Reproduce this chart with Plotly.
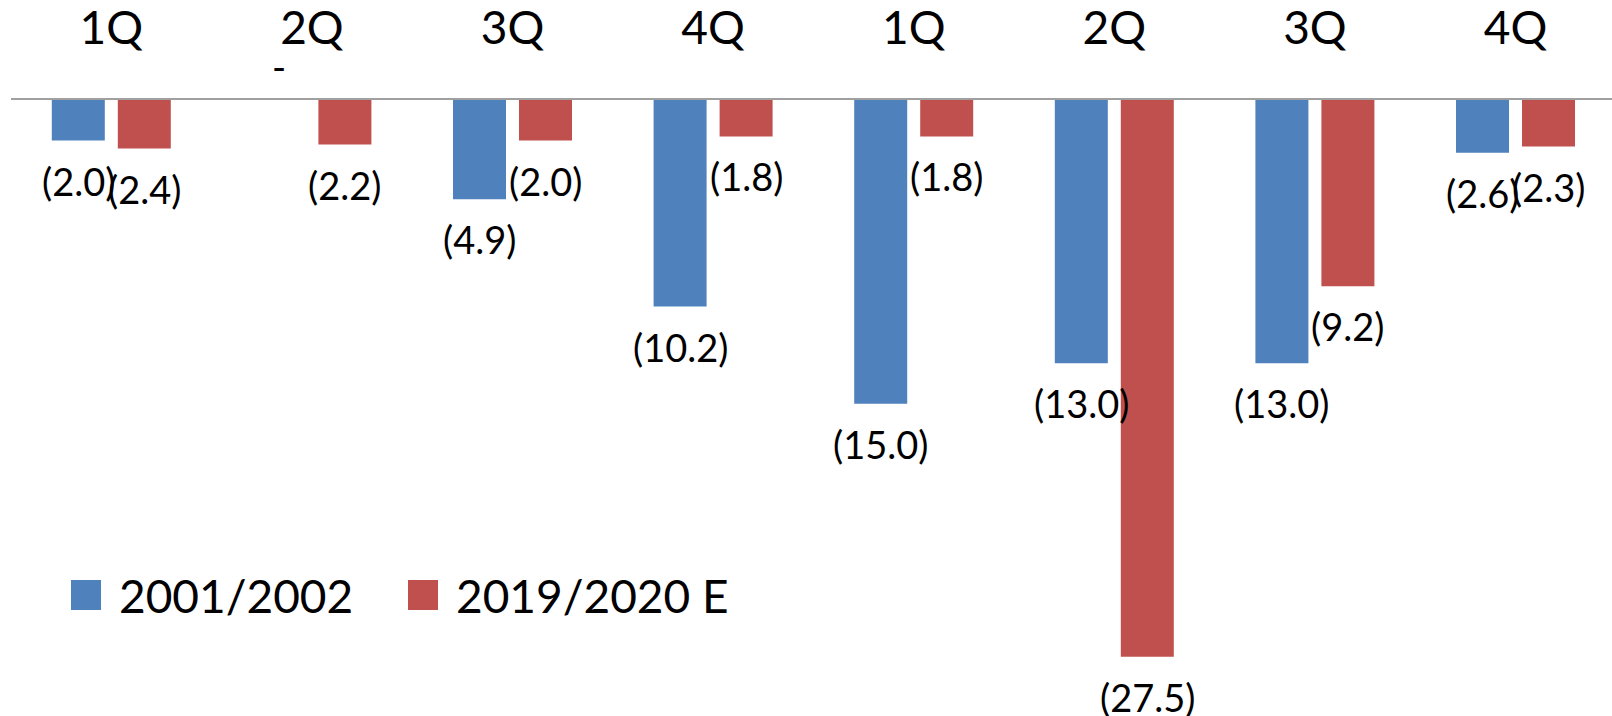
import plotly.graph_objects as go

quarters = ["1Q", "2Q", "3Q", "4Q", "1Q", "2Q", "3Q", "4Q"]
series_names = ["2001/2002", "2019/2020 E"]
values_2001 = [-2.0, 0.0, -4.9, -10.2, -15.0, -13.0, -13.0, -2.6]
values_2019 = [-2.4, -2.2, -2.0, -1.8, -1.8, -27.5, -9.2, -2.3]
colors = ["#4F81BD", "#C0504D"]

W, H = 1612, 716
ML, MT = 11, 100
PW, PH = W - ML, H - MT
FONT = "Lato"
x_idx = list(range(len(quarters)))


def fmt(v):
    return "-" if v == 0 else f"({abs(v):.1f})"


def px_x(px):
    return (px - ML) / PW


def px_y(py):
    return 1 - (py - MT) / PH


fig = go.Figure()
annotations = []
shapes = []
for k, (name, vals, col) in enumerate(zip(series_names, [values_2001, values_2019], colors)):
    fig.add_trace(go.Bar(
        x=x_idx, y=vals, name=name, marker=dict(color=col, line=dict(width=0)),
        showlegend=False, hoverinfo="y+name",
    ))
    xs = -33 if k == 0 else 33
    for i, v in enumerate(vals):
        annotations.append(dict(
            x=i, y=v, xref="x", yref="y", text=fmt(v), showarrow=False,
            xanchor="center", yanchor="middle", xshift=xs,
            yshift=(-40 if v < 0 else 34),
            font=dict(family=FONT, size=38, color="black"),
        ))

# custom legend (large square swatches)
leg_items = [(71, 117), (408, 454)]
for (sx, tx), name, col in zip(leg_items, series_names, colors):
    shapes.append(dict(type="rect", xref="paper", yref="paper",
                       x0=px_x(sx), x1=px_x(sx + 30), y0=px_y(610), y1=px_y(580),
                       fillcolor=col, line=dict(width=0)))
    annotations.append(dict(x=px_x(tx), y=px_y(595), xref="paper", yref="paper",
                            text=name, showarrow=False, xanchor="left", yanchor="middle",
                            font=dict(family=FONT, size=46, color="black")))

fig.update_layout(
    width=W, height=H,
    margin=dict(l=ML, r=0, t=MT, b=0),
    paper_bgcolor="white", plot_bgcolor="white",
    barmode="group", bargap=0.342, bargroupgap=0.197,
    annotations=annotations, shapes=shapes,
    xaxis=dict(
        tickmode="array", tickvals=x_idx, ticktext=quarters, side="top",
        range=[-0.5, 7.481], showgrid=False, zeroline=False, automargin=False,
        showline=True, linecolor="#A0A0A0", linewidth=2,
        ticks="", ticklabelstandoff=36,
        tickfont=dict(family=FONT, size=46, color="black"),
    ),
    yaxis=dict(range=[-30.42, 0], visible=False, showgrid=False, zeroline=False,
               automargin=False),
)

fig.write_html("out.html", config={"displayModeBar": False},
               post_script="document.body.style.margin='0';document.body.style.overflow='hidden';")
